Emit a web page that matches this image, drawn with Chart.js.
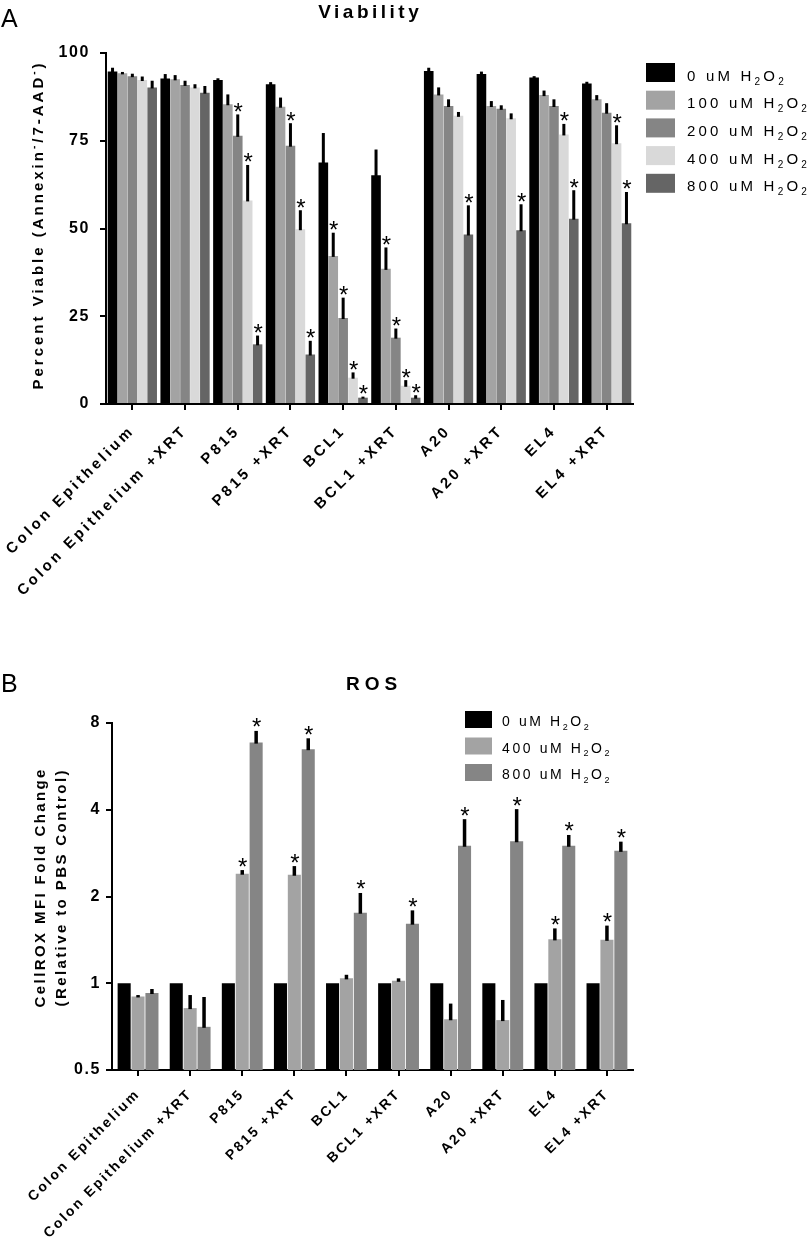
<!DOCTYPE html>
<html><head><meta charset="utf-8">
<script src="https://cdn.jsdelivr.net/npm/chart.js@4.4.1/dist/chart.umd.min.js"></script>
<style>
html,body{margin:0;padding:0;background:#fff;overflow:hidden;width:810px;height:1247px}
canvas{position:absolute;left:0}
#c1{top:0}
#c2{top:620px}
</style></head><body>
<canvas id="c1" width="810" height="620"></canvas>
<canvas id="c2" width="810" height="627"></canvas>
<script>
// ---------- DATA ----------
const categories = ['Colon Epithelium','Colon Epithelium +XRT','P815','P815 +XRT','BCL1','BCL1 +XRT','A20','A20 +XRT','EL4','EL4 +XRT'];

// Panel A: Viability (percent)
const viabilitySeries = ['0 uM H₂O₂','100 uM H₂O₂','200 uM H₂O₂','400 uM H₂O₂','800 uM H₂O₂'];
const via0    = [94.7, 92.7, 92.3, 91.1, 68.8, 65.2, 94.9, 94.0, 93.0, 91.3];
const via0Err = [1.1, 1.3, 0.5, 0.6, 8.4, 7.3, 0.9, 0.7, 0.4, 0.5];
const via100    = [94.2, 92.5, 85.4, 84.7, 42.2, 38.5, 88.2, 84.9, 88.0, 86.8];
const via100Err = [0.4, 1.2, 2.8, 2.6, 6.6, 6.1, 2.0, 1.4, 1.3, 1.2];
const via200    = [93.4, 90.9, 76.4, 73.6, 24.5, 18.9, 84.9, 84.1, 84.9, 83.0];
const via200Err = [0.7, 1.2, 6.1, 6.4, 5.8, 2.6, 1.9, 1.0, 1.9, 2.7];
const via400    = [92.3, 90.2, 58.0, 49.8, 7.5, 5.2, 82.1, 81.4, 76.8, 74.3];
const via400Err = [1.0, 0.9, 10.1, 5.4, 1.5, 1.6, 1.1, 1.4, 3.0, 5.1];
const via800    = [90.2, 88.7, 17.0, 14.1, 1.8, 1.8, 48.3, 49.5, 52.8, 51.5];
const via800Err = [1.9, 1.9, 2.5, 3.9, 0.3, 0.7, 8.3, 7.4, 8.1, 8.9];
const viaStar0   = [0,0,0,0,0,0,0,0,0,0];
const viaStar100 = [0,0,0,0,1,1,0,0,0,0];
const viaStar200 = [0,0,1,1,1,1,0,0,0,0];
const viaStar400 = [0,0,1,1,1,1,0,0,1,1];
const viaStar800 = [0,0,1,1,1,1,1,1,1,1];
const viaTicks = [0, 25, 50, 75, 100];

// Panel B: ROS fold change
const rosSeries = ['0 uM H₂O₂','400 uM H₂O₂','800 uM H₂O₂'];
const ros0    = [1, 1, 1, 1, 1, 1, 1, 1, 1, 1];
const ros0Err = [0, 0, 0, 0, 0, 0, 0, 0, 0, 0];
const ros400    = [0.90, 0.82, 2.40, 2.38, 1.04, 1.02, 0.75, 0.745, 1.42, 1.415];
const ros400Err = [0.01, 0.09, 0.07, 0.17, 0.03, 0.02, 0.10, 0.13, 0.13, 0.17];
const ros800    = [0.925, 0.706, 6.84, 6.49, 1.757, 1.61, 3.00, 3.11, 3.00, 2.88];
const ros800Err = [0.03, 0.19, 0.67, 0.59, 0.30, 0.18, 0.71, 0.91, 0.27, 0.22];
const rosStar0   = [0,0,0,0,0,0,0,0,0,0];
const rosStar400 = [0,0,1,1,0,0,0,0,1,1];
const rosStar800 = [0,0,1,1,1,1,1,1,1,1];
const rosTicks = [0.5, 1, 2, 4, 8];

const viaTitle = 'Viability';
const viaYTitle = ['Percent Viable (Annexin⁻/7-AAD⁻)'];
const rosTitle = 'ROS';
const rosYTitle = ['CellROX MFI Fold Change', '(Relative to PBS Control)'];

// ---------- STYLE ----------
const FONT = '"Liberation Sans", Arial, Helvetica, sans-serif';
const viaColors = ['#000000', '#a3a3a3', '#858585', '#d9d9d9', '#656565'];
const rosColors = ['#000000', '#a3a3a3', '#858585'];

function drawRich(ctx, text, x, y, size, weight, spacing, align) {
  const parts = [];
  for (const ch of text) {
    let kind = 'n', c = ch;
    if (ch === '₂') { kind = 'sub'; c = '2'; }
    else if (ch === '⁻') { kind = 'sup'; c = '-'; }
    const last = parts[parts.length - 1];
    if (last && last.kind === kind) last.t += c; else parts.push({kind, t: c});
  }
  ctx.save();
  ctx.letterSpacing = spacing + 'px';
  ctx.textBaseline = 'alphabetic';
  ctx.textAlign = 'left';
  ctx.fillStyle = '#000';
  const fontFor = k => `${weight} ${k === 'n' ? size : Math.round(size * 0.65)}px ${FONT}`;
  let total = 0;
  for (const p of parts) { ctx.font = fontFor(p.kind); p.w = ctx.measureText(p.t).width; total += p.w; }
  total -= spacing;
  let cx = align === 'center' ? x - total / 2 : x;
  for (const p of parts) {
    ctx.font = fontFor(p.kind);
    const dy = p.kind === 'sub' ? size * 0.27 : (p.kind === 'sup' ? -size * 0.42 : 0);
    ctx.fillText(p.t, cx, y + dy);
    cx += p.w;
  }
  ctx.restore();
}

const spacingPlugin = {
  id: 'spacing',
  afterLayout(chart, args, opts) {
    for (const s of Object.values(chart.scales)) {
      if (s._spWrapped) continue;
      const orig = s.drawLabels;
      const sp = (opts[s.axis] || 0) + 'px';
      s.drawLabels = function(area) {
        const ctx = this.ctx;
        ctx.save();
        ctx.letterSpacing = sp;
        orig.call(this, area);
        ctx.restore();
      };
      s._spWrapped = true;
    }
  }
};

const errPlugin = {
  id: 'errs',
  afterDatasetsDraw(chart, args, opts) {
    const ctx = chart.ctx, ys = chart.scales.y;
    ctx.save();
    ctx.letterSpacing = '0px';
    chart.data.datasets.forEach((ds, i) => {
      const meta = chart.getDatasetMeta(i);
      meta.data.forEach((bar, j) => {
        const v = ds.data[j], e = ds.errors[j];
        const yBar = ys.getPixelForValue(v);
        const yTop = ys.getPixelForValue(v + e);
        if (e > 0) {
          ctx.fillStyle = '#000';
          ctx.fillRect(bar.x - opts.w / 2, yTop, opts.w, Math.max(1.5, yBar - yTop + 1));
        }
        if (ds.stars[j]) {
          ctx.font = `${opts.starSize}px ${FONT}`;
          ctx.textAlign = 'center';
          ctx.textBaseline = 'alphabetic';
          const m = ctx.measureText('*');
          const cy = yTop - opts.gap;
          const yb = cy - (m.actualBoundingBoxDescent - m.actualBoundingBoxAscent) / 2;
          ctx.fillStyle = '#000';
          ctx.fillText('*', bar.x + 0.5, yb);
        }
      });
    });
    ctx.restore();
  }
};

const legendPlugin = {
  id: 'customLegend',
  afterDraw(chart, args, o) {
    const ctx = chart.ctx;
    chart.data.datasets.forEach((ds, i) => {
      const top = o.y + i * o.step;
      ctx.fillStyle = ds.backgroundColor;
      ctx.fillRect(o.x, top, o.w, o.h);
      drawRich(ctx, ds.label, o.tx, top + o.base, o.size, 'normal', o.spacing, 'left');
    });
  }
};

const annotPlugin = {
  id: 'annot',
  afterDraw(chart, args, o) {
    const ctx = chart.ctx, ca = chart.chartArea;
    drawRich(ctx, o.letter, o.letterX, o.letterY, o.letterSize, 'normal', 0, 'left');
    drawRich(ctx, o.title, (ca.left + ca.right) / 2 + o.titleDx, o.titleY, o.titleSize, 'bold', o.titleSpacing, 'center');
    const cyMid = (ca.top + ca.bottom) / 2 + o.yTitleDy;
    o.yTitle.forEach((t, k) => {
      ctx.save();
      ctx.translate(o.yTitleX[k], cyMid);
      ctx.rotate(-Math.PI / 2);
      drawRich(ctx, t, 0, 0, o.yTitleSize, 'bold', o.yTitleSpacing, 'center');
      ctx.restore();
    });
  }
};

function axisCommon() {
  return {
    grid: {display: true, drawOnChartArea: false, drawTicks: true, tickLength: 6, lineWidth: 2, color: '#000', offset: false},
    border: {display: true, color: '#000', width: 2},
  };
}

// ---------- CHART A ----------
const viaData = [via0, via100, via200, via400, via800];
const viaErr = [via0Err, via100Err, via200Err, via400Err, via800Err];
const viaStars = [viaStar0, viaStar100, viaStar200, viaStar400, viaStar800];

new Chart(document.getElementById('c1'), {
  type: 'bar',
  data: {
    labels: categories,
    datasets: viabilitySeries.map((lab, i) => ({
      label: lab, data: viaData[i], errors: viaErr[i], stars: viaStars[i],
      backgroundColor: viaColors[i], borderWidth: 0,
      categoryPercentage: 0.94, barPercentage: 0.97
    }))
  },
  options: {
    responsive: false, animation: false, devicePixelRatio: 1,
    layout: {padding: {top: 53, left: 0, right: 177, bottom: 0}, autoPadding: false},
    plugins: {
      legend: {display: false}, title: {display: false}, tooltip: {enabled: false},
      spacing: {x: 3.2, y: 1.6},
      errs: {w: 3, gap: 7, starSize: 24},
      customLegend: {x: 646, y: 63, w: 29, h: 19, step: 27.7, tx: 687, base: 17.5, size: 15, spacing: 3.2},
      annot: {letter: 'A', letterX: 1, letterY: 27, letterSize: 25,
              title: viaTitle, titleDx: -1, titleY: 18, titleSize: 19, titleSpacing: 3.5,
              yTitle: viaYTitle, yTitleX: [43], yTitleDy: -2, yTitleSize: 15, yTitleSpacing: 3.0}
    },
    scales: {
      x: Object.assign(axisCommon(), {
        ticks: {minRotation: 45, maxRotation: 45, autoSkip: false, color: '#000', padding: 12,
                font: {family: FONT, size: 15, weight: 'bold'}},
        afterFit(s) { s.height = 216; }
      }),
      y: Object.assign(axisCommon(), {
        min: 0, max: 100,
        afterBuildTicks(s) { s.ticks = viaTicks.map(v => ({value: v})); },
        ticks: {color: '#000', padding: 10, font: {family: FONT, size: 16, weight: 'bold'}},
        afterFit(s) { s.width = 106; }
      })
    }
  },
  plugins: [spacingPlugin, errPlugin, legendPlugin, annotPlugin]
});

// ---------- CHART B ----------
const rosData = [ros0, ros400, ros800];
const rosErr = [ros0Err, ros400Err, ros800Err];
const rosStars = [rosStar0, rosStar400, rosStar800];

new Chart(document.getElementById('c2'), {
  type: 'bar',
  data: {
    labels: categories,
    datasets: rosSeries.map((lab, i) => ({
      label: lab, data: rosData[i], errors: rosErr[i], stars: rosStars[i],
      backgroundColor: rosColors[i], borderWidth: 0,
      categoryPercentage: 0.8, barPercentage: 0.94
    }))
  },
  options: {
    responsive: false, animation: false, devicePixelRatio: 1,
    layout: {padding: {top: 103, left: 0, right: 177, bottom: 0}, autoPadding: false},
    plugins: {
      legend: {display: false}, title: {display: false}, tooltip: {enabled: false},
      spacing: {x: 2.3, y: 1.6},
      errs: {w: 3.5, gap: 8, starSize: 24},
      customLegend: {x: 465, y: 91, w: 27, h: 17, step: 26.5, tx: 502, base: 15, size: 14, spacing: 2.6},
      annot: {letter: 'B', letterX: 1, letterY: 72, letterSize: 25,
              title: rosTitle, titleDx: -1, titleY: 70, titleSize: 19, titleSpacing: 5,
              yTitle: rosYTitle, yTitleX: [45, 66], yTitleDy: -8, yTitleSize: 15, yTitleSpacing: 2.4}
    },
    scales: {
      x: Object.assign(axisCommon(), {
        ticks: {minRotation: 45, maxRotation: 45, autoSkip: false, color: '#000', padding: 10,
                font: {family: FONT, size: 14, weight: 'bold'}},
        afterFit(s) { s.height = 177; }
      }),
      y: Object.assign(axisCommon(), {
        type: 'logarithmic', min: 0.5, max: 8,
        afterBuildTicks(s) { s.ticks = rosTicks.map(v => ({value: v})); },
        ticks: {color: '#000', padding: 5, font: {family: FONT, size: 16, weight: 'bold'},
                callback: v => String(v)},
        afterFit(s) { s.width = 112; }
      })
    }
  },
  plugins: [spacingPlugin, errPlugin, legendPlugin, annotPlugin]
});
</script>
</body></html>
